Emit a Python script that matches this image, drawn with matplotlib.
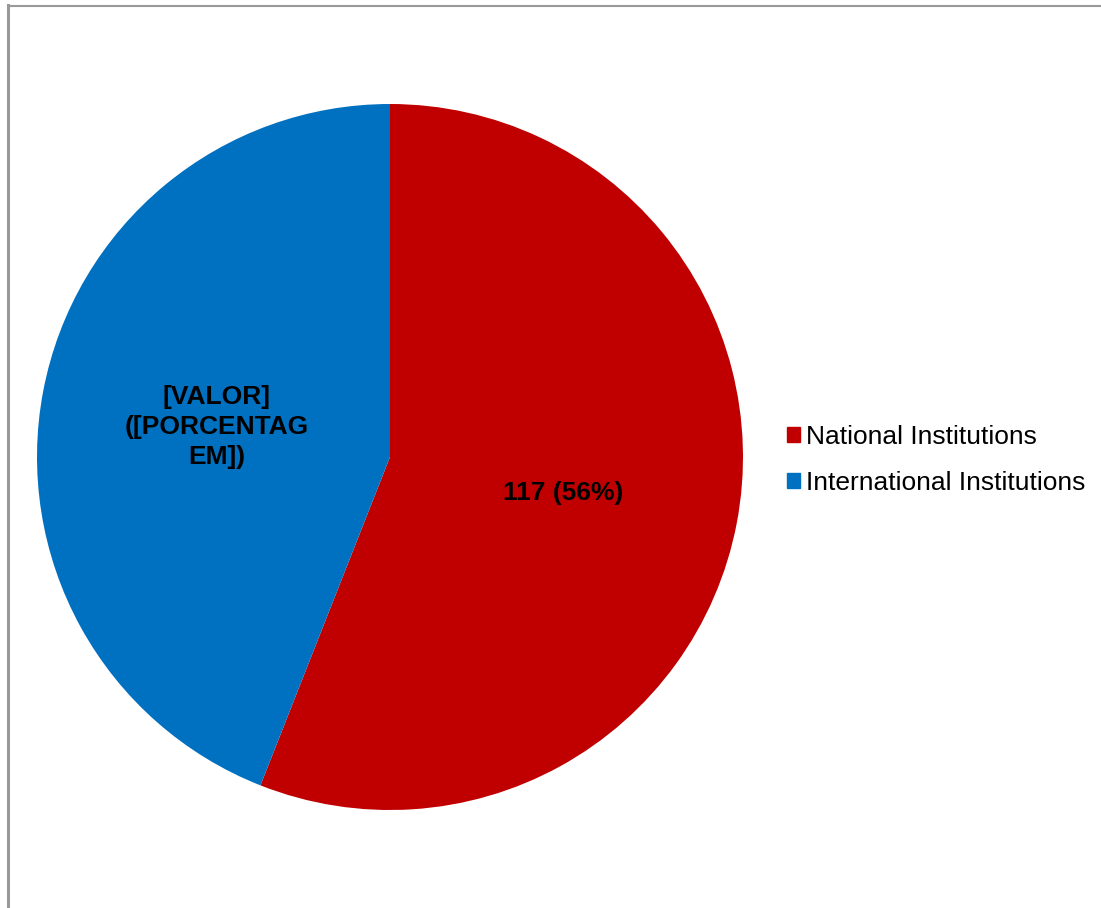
import numpy as np
import matplotlib.pyplot as plt

plt.rcParams['font.family'] = ['Liberation Sans', 'DejaVu Sans']

categories = ['National Institutions', 'International Institutions']
values = [117, 92]
colors = ['#c00000', '#0070c0']
labels = ['117 (56%)', '[VALOR]\n([PORCENTAG\nEM])']

W, H = 1101, 908
fig = plt.figure(figsize=(W / 100, H / 100), dpi=100)

# gray frame on left and top
fig.add_artist(plt.Line2D([7.5 / W, 7.5 / W], [0, 1 - 5 / H], color='#999999', lw=2.2))
fig.add_artist(plt.Line2D([7.5 / W, 1], [1 - 5.5 / H, 1 - 5.5 / H], color='#999999', lw=1.5))

cx, cy, r = 390, 457, 353
ax = fig.add_axes([(cx - r) / W, (H - cy - r) / H, 2 * r / W, 2 * r / H])
wedges, _ = ax.pie(values, colors=colors, startangle=90, counterclock=False,
                   radius=1, wedgeprops=dict(linewidth=0))
ax.set_xlim(-1, 1)
ax.set_ylim(-1, 1)
ax.set_aspect('equal')
ax.axis('off')

for w, lab in zip(wedges, labels):
    mid = np.deg2rad((w.theta1 + w.theta2) / 2)
    ax.annotate(lab, (0.5 * np.cos(mid), 0.5 * np.sin(mid)), xytext=(0, -3),
                textcoords='offset pixels', ha='center', va='center',
                fontsize=19, fontweight='bold', color='black', linespacing=1.31)

handles = [plt.Rectangle((0, 0), 1, 1, color=c) for c in colors]
fig.legend(handles, categories, loc='center left', bbox_to_anchor=(776 / W, 1 - 460 / H),
           frameon=False, fontsize=19, handlelength=0.5, handleheight=0.5,
           handletextpad=0.25, labelspacing=0.85, borderaxespad=0)

fig.savefig('out.png', dpi=100)
